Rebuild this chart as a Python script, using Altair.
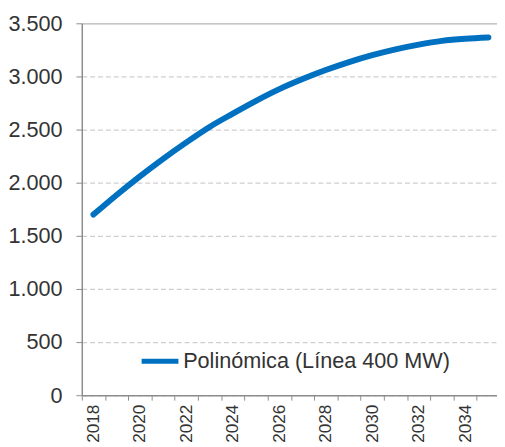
import altair as alt
import pandas as pd

years = list(range(2018, 2036))
values = [1700, 1885, 2060, 2225, 2380, 2525, 2650, 2770, 2880, 2975,
          3060, 3135, 3200, 3255, 3300, 3335, 3355, 3367]
series_name = "Polinómica (Línea 400 MW)"
y_ticks = [0, 500, 1000, 1500, 2000, 2500, 3000, 3500]

df = pd.DataFrame({"year": years, "value": values, "serie": series_name})

x_tick_values = [years[0] - 0.5 + 0.5 * i for i in range(2 * len(years))]

FONT = "Liberation Sans"
GRID = "#cfcfcf"
AXIS = "#8c8c8c"

chart = alt.Chart(df).mark_line(strokeWidth=6, strokeCap="round", strokeJoin="round", interpolate="monotone").encode(
    x=alt.X("year:Q",
            scale=alt.Scale(domain=[2017.5, 2035.37], nice=False, zero=False),
            axis=alt.Axis(values=x_tick_values, title=None, grid=False,
                          labelExpr="(datum.value % 2 == 0) ? datum.value : ''",
                          labelAngle=-90, labelAlign="right", labelBaseline="middle",
                          labelFont=FONT, labelFontSize=17.5, labelColor="#333333",
                          labelPadding=4, labelOverlap=False, labelFlush=False,
                          tickSize=5, tickColor=AXIS,
                          tickOpacity={"condition": {"test": "datum.value % 1 == 0", "value": 0}, "value": 1},
                          domainColor=AXIS, domainWidth=1.5)),
    y=alt.Y("value:Q",
            scale=alt.Scale(domain=[0, 3500], nice=False),
            axis=alt.Axis(values=y_ticks, title=None,
                          labelExpr="replace(format(datum.value, ','), ',', '.')",
                          labelFont=FONT, labelFontSize=22, labelColor="#333333",
                          labelPadding=14, tickSize=6, tickColor=AXIS,
                          domainColor=AXIS, domainWidth=1.5,
                          gridColor={"condition": {"test": "datum.value == 3500", "value": "#b5b5b5"}, "value": GRID},
                          gridDash={"condition": {"test": "datum.value == 3500", "value": []}, "value": [5, 3]},
                          gridWidth=1.2)),
    color=alt.Color("serie:N", scale=alt.Scale(range=["#0070C0"]),
                    legend=alt.Legend(title=None, orient="none", legendX=58, legendY=322,
                                      symbolType="stroke", symbolSize=1400, symbolStrokeWidth=5,
                                      labelFont=FONT, labelFontSize=22, labelColor="#333333",
                                      labelLimit=400, padding=0, labelOffset=2)),
).properties(
    width=422, height=378,
    padding={"left": 75, "top": 12, "right": 0, "bottom": 46},
    autosize=alt.AutoSizeParams(type="none"),
).configure_view(stroke=None)

chart.save("out.html", embed_options={"renderer": "svg", "actions": False})
